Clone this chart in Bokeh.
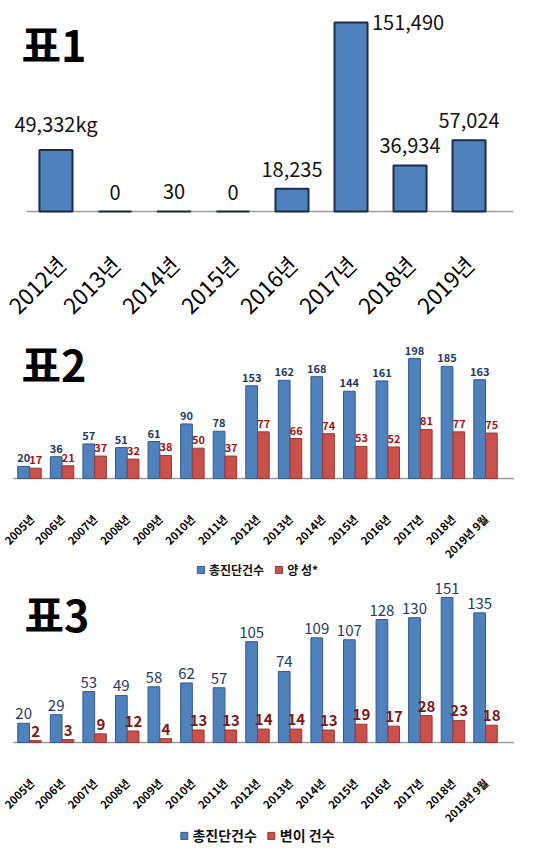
from math import pi
from bokeh.plotting import figure
from bokeh.models import ColumnDataSource, Label, Legend, LegendItem, FactorRange, Range1d
from bokeh.transform import dodge
from bokeh.layouts import column
from bokeh.core.properties import value
from bokeh.embed import file_html
from bokeh.resources import INLINE

FONT = "Noto Sans CJK KR"

# ---- data ----
years1 = ["2012년", "2013년", "2014년", "2015년", "2016년", "2017년", "2018년", "2019년"]
seized_kg = [49332, 0, 30, 0, 18235, 151490, 36934, 57024]
seized_labels = ["49,332kg", "0", "30", "0", "18,235", "151,490", "36,934", "57,024"]

years2 = ["2005년", "2006년", "2007년", "2008년", "2009년", "2010년", "2011년", "2012년",
          "2013년", "2014년", "2015년", "2016년", "2017년", "2018년", "2019년 9월"]
total_tests2 = [20, 36, 57, 51, 61, 90, 78, 153, 162, 168, 144, 161, 198, 185, 163]
positive2 = [17, 21, 37, 32, 38, 50, 37, 77, 66, 74, 53, 52, 81, 77, 75]
total_tests3 = [20, 29, 53, 49, 58, 62, 57, 105, 74, 109, 107, 128, 130, 151, 135]
mutation3 = [2, 3, 9, 12, 4, 13, 13, 14, 14, 13, 19, 17, 28, 23, 18]

legend2 = ["총진단건수", "양 성*"]
legend3 = ["총진단건수", "변이 건수"]
titles = ["표1", "표2", "표3"]

BLUE = "#4f81bd"
BLUE_EDGE = "#34598a"
RED = "#c9504b"
RED_EDGE = "#943a37"
NAVY = "#1f3864"
DARKRED = "#a31515"
MAROON = "#7b1818"


def base_fig(factors, width, height, vmax, px_max, base_px, pad, standoff, tick_fs,
             tick_style, ext):
    """Frame covers the whole figure; axis drawn at y=0 inside it."""
    u = vmax / px_max  # data units per pixel
    xr = FactorRange(*factors, range_padding=pad, range_padding_units="absolute")
    p = figure(x_range=xr, y_range=Range1d(-(height - base_px) * u, base_px * u),
               width=width, height=height, output_backend="svg", toolbar_location=None,
               min_border=0)
    p.yaxis.visible = False
    p.xgrid.visible = False
    p.ygrid.visible = False
    p.outline_line_color = None
    p.background_fill_color = "white"
    ax = p.xaxis[0]
    ax.fixed_location = 0
    ax.axis_line_color = None
    ax.major_tick_line_color = None
    ax.minor_tick_line_color = None
    ax.major_label_orientation = pi / 4
    ax.major_label_text_font = FONT
    ax.major_label_text_color = "black"
    ax.major_label_text_font_size = tick_fs
    ax.major_label_text_font_style = tick_style
    ax.major_label_standoff = standoff
    # baseline
    p.line(x=[0, len(factors) + ext], y=[0, 0], line_color="#9c9c9c", line_width=1.5)
    return p


def add_title(p, text, x, y):
    p.add_layout(Label(x=x, y=y, x_units="screen", y_units="screen", text=text,
                       text_font=FONT, text_font_size="43px", text_font_style="bold",
                       text_color="black", text_baseline="middle"))


# ---- chart 1 ----
vmax = max(seized_kg)
p1 = base_fig(years1, 524, 320, vmax, 189, 211, 0.44, 42, "22px", "normal", 0.25)
src1 = ColumnDataSource(dict(x=years1, v=seized_kg))
p1.vbar(x="x", top="v", width=0.56, source=src1, fill_color=BLUE,
        line_color="#1c2c4c", line_width=2)
lab_c = ColumnDataSource(dict(x=[y for y, v in zip(years1, seized_kg) if v != vmax],
                              v=[v for v in seized_kg if v != vmax],
                              t=[t for t, v in zip(seized_labels, seized_kg) if v != vmax]))
lab_m = ColumnDataSource(dict(x=[y for y, v in zip(years1, seized_kg) if v == vmax],
                              v=[v for v in seized_kg if v == vmax],
                              t=[t for t, v in zip(seized_labels, seized_kg) if v == vmax]))
p1.text(x="x", y="v", text="t", source=lab_c, text_align="center", text_baseline="bottom",
        y_offset=-12, text_font=value(FONT), text_font_size="20px", text_color="#111111")
p1.text(x="x", y="v", text="t", source=lab_m, text_align="left", text_baseline="middle",
        x_offset=21, text_font=value(FONT), text_font_size="20px", text_color="#111111")
add_title(p1, titles[0], 21, 320 - 42)


# ---- charts 2 & 3 ----
def grouped(height, a, b, names, px_max, base_px, fs, blue_style, red_color,
            title, tpos, legend_fs, legend_margin):
    p = base_fig(years2, 514, height, max(a), px_max, base_px, 0.39, 32, "11px", "bold", 0.5)
    src = ColumnDataSource(dict(x=years2, a=a, b=b,
                                ta=[str(v) for v in a], tb=[str(v) for v in b]))
    ra = p.vbar(x=dodge("x", -0.18, range=p.x_range), top="a", width=0.36, source=src,
                fill_color=BLUE, line_color=BLUE_EDGE, line_width=1)
    rb_ = p.vbar(x=dodge("x", 0.18, range=p.x_range), top="b", width=0.36, source=src,
                 fill_color=RED, line_color=RED_EDGE, line_width=1)
    p.text(x=dodge("x", -0.18, range=p.x_range), y="a", text="ta", source=src,
           text_align="center", text_baseline="bottom", y_offset=-4,
           text_font=value(FONT), text_font_size=fs, text_font_style=blue_style,
           text_color=NAVY)
    p.text(x=dodge("x", 0.19, range=p.x_range), y="b", text="tb", source=src,
           text_align="center", text_baseline="bottom", y_offset=-4,
           text_font=value(FONT), text_font_size=fs, text_font_style="bold",
           text_color=red_color)
    leg = Legend(items=[LegendItem(label=names[0], renderers=[ra]),
                        LegendItem(label=names[1], renderers=[rb_])],
                 orientation="horizontal", location="bottom_center",
                 label_text_font=FONT, label_text_font_size=legend_fs,
                 label_text_font_style="bold", label_text_color="#111111",
                 border_line_color=None, background_fill_alpha=0,
                 glyph_width=9, glyph_height=9, label_standoff=4, spacing=10,
                 label_height=12, padding=0, margin=legend_margin)
    p.add_layout(leg)
    add_title(p, title, tpos[0], tpos[1])
    return p


p2 = grouped(258, total_tests2, positive2, legend2, 120, 158, "11px", "bold", DARKRED,
             titles[1], (21, 258 - 42), "12px", 0)
p3 = grouped(267, total_tests3, mutation3, legend3, 145, 164, "15px", "normal", MAROON,
             titles[2], (24, 267 - 34), "14px", 0)

layout = column(p1, p2, p3, spacing=0)
open("out.html", "w").write(file_html(layout, INLINE))
